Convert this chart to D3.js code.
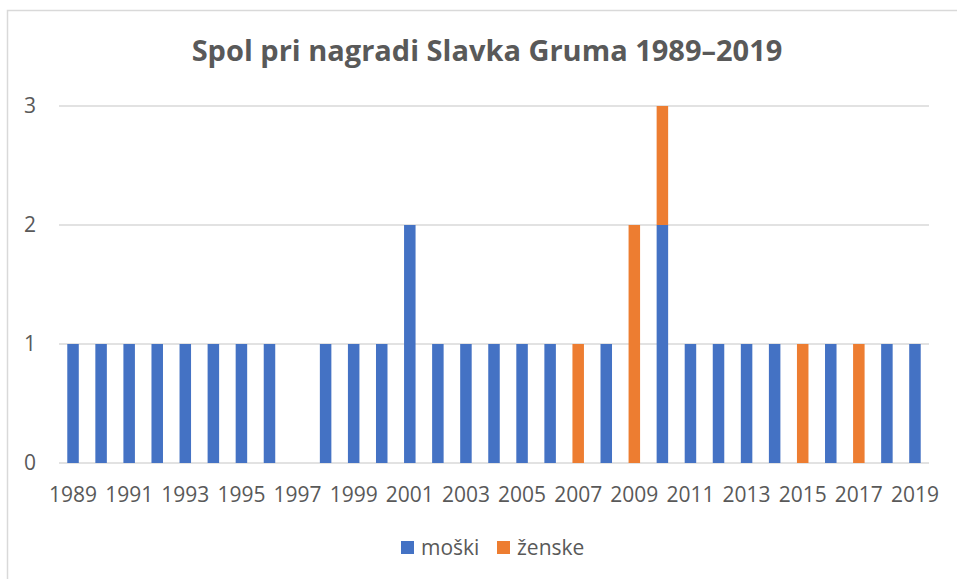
<!DOCTYPE html>
<html>
<head>
<meta charset="utf-8">
<script src="https://cdn.jsdelivr.net/npm/d3@7"></script>
<style>
  body { margin: 0; background: #fff; }
  svg text { font-family: "Open Sans", sans-serif; fill: #595959; }
</style>
</head>
<body>
<div id="chart"></div>
<script>
// ---------------- data ----------------
const years = d3.range(1989, 2020).map(String);
const moski  = [1,1,1,1,1,1,1,1,0,1,1,1,2,1,1,1,1,1,0,1,0,2,1,1,1,1,0,1,0,1,1];
const zenske = [0,0,0,0,0,0,0,0,0,0,0,0,0,0,0,0,0,0,1,0,2,1,0,0,0,0,1,0,1,0,0];
const seriesNames = ['moški', 'ženske'];
const colors = ['#4472C4', '#ED7D31'];
const yTicks = [0, 1, 2, 3];

const W = 957, H = 579;
const plot = { left: 59, right: 929, top: 106, bottom: 463 };

const svg = d3.select('#chart').append('svg')
  .attr('width', W).attr('height', H);

// chart border
svg.append('rect')
  .attr('x', 7.5).attr('y', 10.5)
  .attr('width', W + 20).attr('height', H + 20)
  .attr('fill', '#fff').attr('stroke', '#D9D9D9').attr('stroke-width', 1.5);

const x = d3.scaleBand().domain(years).range([plot.left, plot.right]).paddingInner(0.59).paddingOuter(0.295);
const y = d3.scaleLinear().domain([0, 3]).range([plot.bottom, plot.top]);

// gridlines
svg.append('g').selectAll('line')
  .data(yTicks).enter().append('line')
  .attr('x1', plot.left).attr('x2', plot.right)
  .attr('y1', d => y(d)).attr('y2', d => y(d))
  .attr('stroke', '#D9D9D9').attr('stroke-width', 1.5);

// y labels
svg.append('g').selectAll('text')
  .data(yTicks).enter().append('text')
  .attr('x', 36).attr('y', d => y(d))
  .attr('dy', '0.35em').attr('text-anchor', 'end')
  .style('font-size', '21px')
  .text(d => d);

// stacked bars
const table = years.map((yr, i) => ({ year: yr, 'moški': moski[i], 'ženske': zenske[i] }));
const stack = d3.stack().keys(seriesNames)(table);

svg.append('g').selectAll('g')
  .data(stack).enter().append('g')
  .attr('fill', (d, i) => colors[i])
  .selectAll('rect')
  .data(d => d.filter(p => p[1] > p[0])).enter().append('rect')
  .attr('x', d => x(d.data.year))
  .attr('width', x.bandwidth())
  .attr('y', d => y(d[1]))
  .attr('height', d => y(d[0]) - y(d[1]));

// x labels (every other year)
svg.append('g').selectAll('text')
  .data(years.filter((d, i) => i % 2 === 0)).enter().append('text')
  .attr('x', d => x(d) + x.bandwidth() / 2)
  .attr('y', 495)
  .attr('dy', '0.35em').attr('text-anchor', 'middle')
  .style('font-size', '21px')
  .text(d => d);

// title
svg.append('text')
  .attr('x', 487).attr('y', 51)
  .attr('dy', '0.35em').attr('text-anchor', 'middle')
  .style('font-size', '29px').style('font-weight', 'bold')
  .text('Spol pri nagradi Slavka Gruma 1989–2019');

// legend
const legend = svg.append('g');
const lx = [401, 497];
seriesNames.forEach((name, i) => {
  legend.append('rect')
    .attr('x', lx[i]).attr('y', 541)
    .attr('width', 13).attr('height', 13)
    .attr('fill', colors[i]);
  legend.append('text')
    .attr('x', lx[i] + 20).attr('y', 548)
    .attr('dy', '0.35em')
    .style('font-size', '21px')
    .text(name);
});
</script>
</body>
</html>
